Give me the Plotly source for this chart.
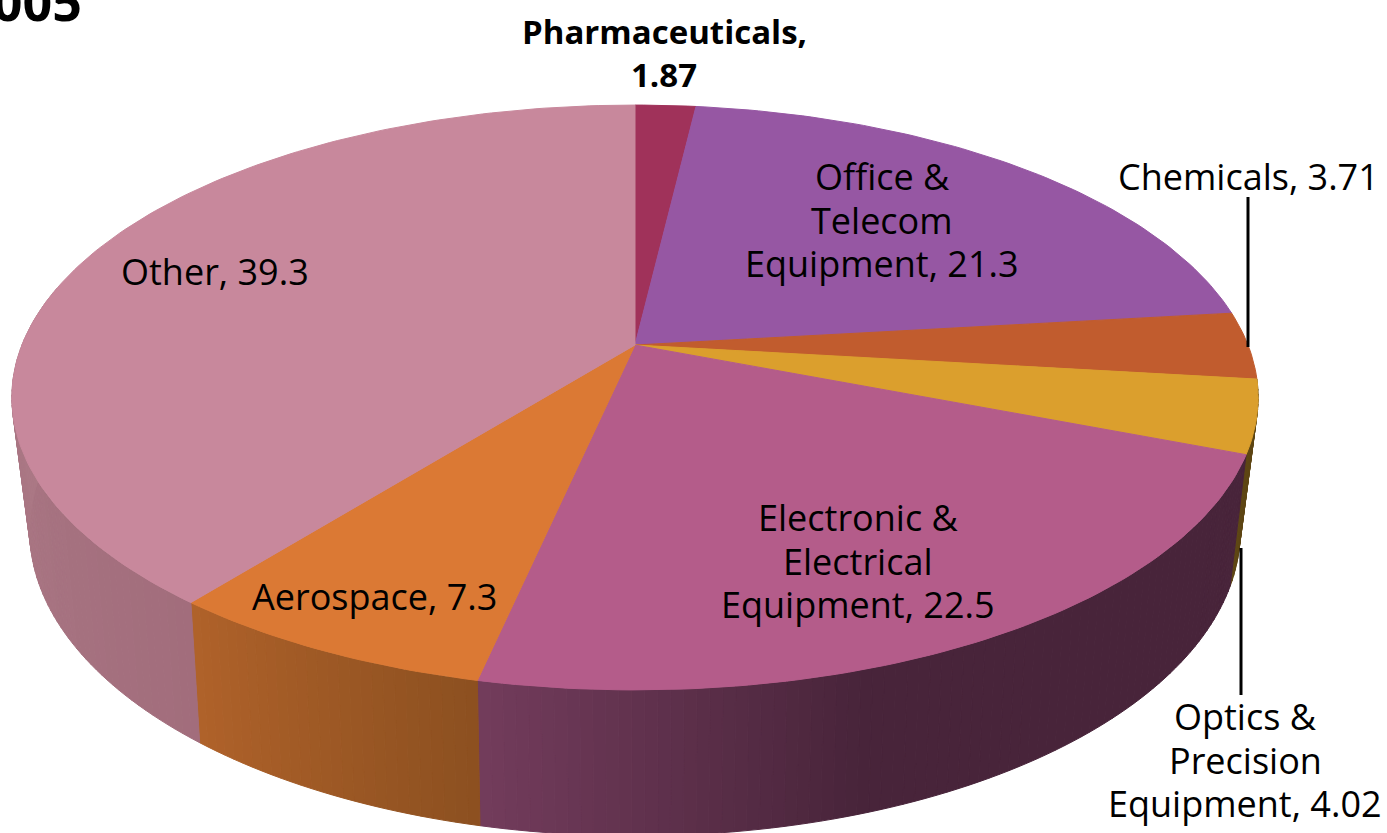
import math
import plotly.graph_objects as go

# shares of exports, clockwise from 12 o'clock
categories = ["Pharmaceuticals", "Office & Telecom Equipment", "Chemicals",
              "Optics & Precision Equipment", "Electronic & Electrical Equipment",
              "Aerospace", "Other"]
values = [1.87, 21.3, 3.71, 4.02, 22.5, 7.3, 39.3]
title_text = "2005"
label_lines = [["Pharmaceuticals,", "1.87"], ["Office &", "Telecom", "Equipment, 21.3"],
               ["Chemicals, 3.71"], ["Optics &", "Precision", "Equipment, 4.02"],
               ["Electronic &", "Electrical", "Equipment, 22.5"], ["Aerospace, 7.3"], ["Other, 39.3"]]

# styles and placement
top_colors = ["#A0325A", "#9657A3", "#C15C2E", "#DB9F2D", "#B45C8A", "#DB7934", "#C8889C"]
# side colour at start and end of each slice (clockwise)
side_colors = [None, None, None,
               ((94, 70, 20), (94, 70, 20)),
               ((72, 36, 58), (115, 60, 92)),
               ((140, 80, 32), (176, 98, 42)),
               ((162, 109, 124), (174, 124, 136))]
label_pos = [(664, 53), (882, 220), (1248, 176), (1245, 760), (858, 561), (374, 596), (215, 271)]
label_weight = [700, 400, 400, 400, 400, 400, 400]
label_size = [33, 36, 36, 36, 36, 36, 36]
line_gap = 43.7
leaders = [((1248, 1248), (197, 347)), ((1241, 1241), (548, 695))]
dark_from = 162.0  # degrees, electronic side stays flat dark before this angle

W, H = 1387, 833
CX = 635
TOP = dict(cy=345, a=613, b=283, k=0.1795)
BOTTOM = dict(cy=472, a=594, b=294, k=0.192)


def project(deg, disc):
    # clockwise degrees from the back of the disc, with perspective
    u = math.sin(math.radians(deg))
    v = math.cos(math.radians(deg))
    w = 1 + disc["k"] * v
    return CX + disc["a"] * u / w, disc["cy"] - disc["b"] * v / w


def arc_range(start, end, step=1.0):
    n = max(2, int(math.ceil((end - start) / step)) + 1)
    return [start + (end - start) * i / (n - 1) for i in range(n)]


fig = go.Figure()

# cumulative angles
edges = [0.0]
for val in values:
    edges.append(edges[-1] + val / sum(values) * 360)

# side wall first, the top is painted over it
for i in range(len(values)):
    if side_colors[i] is None:
        continue
    start, end = edges[i], min(edges[i + 1], 282)
    angles = arc_range(start, end, 1.0)
    c0, c1 = side_colors[i]
    for a0, a1 in zip(angles[:-1], angles[1:]):
        mid = (a0 + a1) / 2
        f = (mid - start) / (end - start)
        if categories[i].startswith("Electronic"):
            f = max(0, (mid - dark_from) / (end - dark_from))
        rgb = [round(c0[j] + (c1[j] - c0[j]) * f) for j in range(3)]
        col = "rgb(%d,%d,%d)" % tuple(rgb)
        p = [project(a0, TOP), project(a1, TOP), project(a1, BOTTOM), project(a0, BOTTOM)]
        fig.add_trace(go.Scatter(x=[q[0] for q in p] + [p[0][0]], y=[q[1] for q in p] + [p[0][1]],
                                 mode="lines", fill="toself", fillcolor=col,
                                 line=dict(color=col, width=1), hoverinfo="skip"))

# top of the pie
for i in range(len(values)):
    pts = [project(a, TOP) for a in arc_range(edges[i], edges[i + 1])]
    xs = [CX] + [q[0] for q in pts] + [CX]
    ys = [TOP["cy"]] + [q[1] for q in pts] + [TOP["cy"]]
    fig.add_trace(go.Scatter(x=xs, y=ys, mode="lines", fill="toself", fillcolor=top_colors[i],
                             line=dict(color=top_colors[i], width=1), name=categories[i],
                             hoverinfo="name"))

# leader lines
for lx, ly in leaders:
    fig.add_trace(go.Scatter(x=lx, y=ly, mode="lines", line=dict(color="black", width=3),
                             hoverinfo="skip"))

# one annotation per line, the line spacing of the original is tighter than plotly's
for lines, (lx, ly), weight, size in zip(label_lines, label_pos, label_weight, label_size):
    for n, txt in enumerate(lines):
        fig.add_annotation(x=lx, y=ly + (n - (len(lines) - 1) / 2) * line_gap, text=txt,
                           showarrow=False, xanchor="center", yanchor="middle",
                           font=dict(family="Open Sans", size=size, color="black", weight=weight))

fig.add_annotation(x=84, y=38, text=title_text, showarrow=False, xanchor="right",
                   yanchor="bottom", font=dict(family="Open Sans", size=52, color="black", weight=700))

fig.update_layout(autosize=False, width=W, height=H, showlegend=False,
                  margin=dict(l=0, r=0, t=0, b=0), plot_bgcolor="white", paper_bgcolor="white",
                  hovermode="closest")
fig.update_xaxes(visible=False, range=[0, W], fixedrange=True)
fig.update_yaxes(visible=False, range=[H, 0], fixedrange=True)

fig.write_html("out.html", config=dict(displayModeBar=False),
               post_script="document.body.style.margin='0';document.body.style.overflow='hidden';")
